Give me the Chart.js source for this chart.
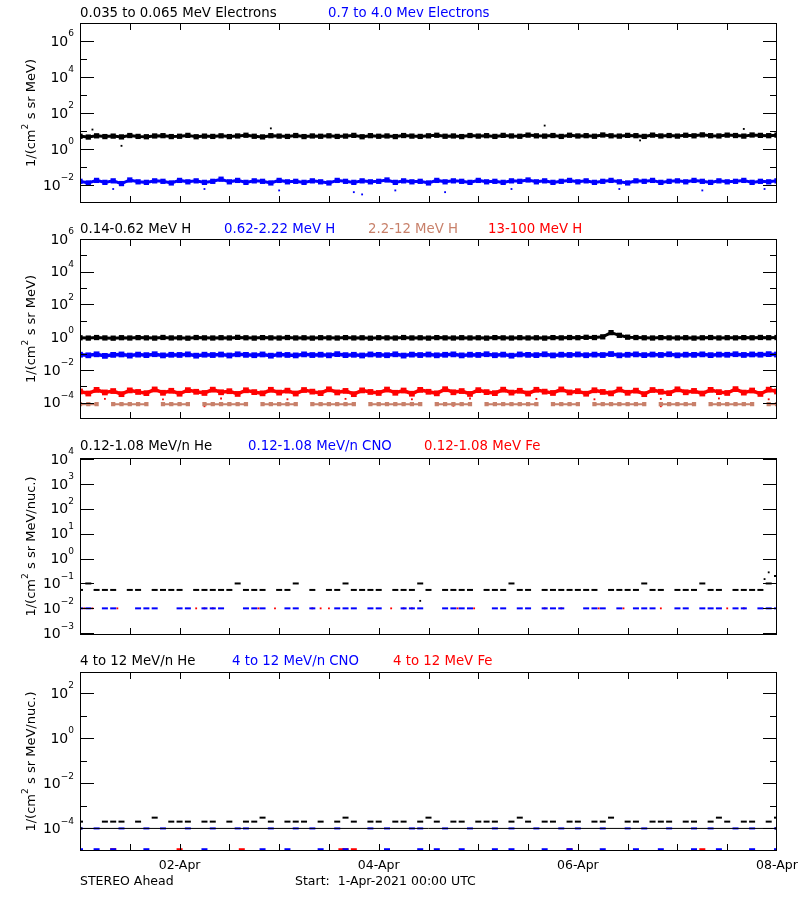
<!DOCTYPE html>
<html><head><meta charset="utf-8">
<script src="https://cdn.jsdelivr.net/npm/chart.js@4"></script>
<style>
body{margin:0;background:#fff;width:800px;height:900px;position:relative;overflow:hidden;font-family:"DejaVu Sans",sans-serif}
canvas{position:absolute;left:0;top:0}
.t{position:absolute;font-size:13.3px;white-space:pre;line-height:14px}
.f{font-size:12.5px}
</style></head><body>
<canvas id="c1" width="800" height="900"></canvas>
<canvas id="c2" width="800" height="900"></canvas>
<canvas id="c3" width="800" height="900"></canvas>
<canvas id="c4" width="800" height="900"></canvas>
<div class="t" style="left:80px;top:6px">0.035 to 0.065 MeV Electrons</div>
<div class="t" style="left:328px;top:6px;color:#0000ff">0.7 to 4.0 Mev Electrons</div>
<div class="t" style="left:80px;top:222px">0.14-0.62 MeV H</div>
<div class="t" style="left:224px;top:222px;color:#0000ff">0.62-2.22 MeV H</div>
<div class="t" style="left:368px;top:222px;color:#c8806a">2.2-12 MeV H</div>
<div class="t" style="left:488px;top:222px;color:#ff0000">13-100 MeV H</div>
<div class="t" style="left:80px;top:439px">0.12-1.08 MeV/n He</div>
<div class="t" style="left:248px;top:439px;color:#0000ff">0.12-1.08 MeV/n CNO</div>
<div class="t" style="left:424px;top:439px;color:#ff0000">0.12-1.08 MeV Fe</div>
<div class="t" style="left:80px;top:654px">4 to 12 MeV/n He</div>
<div class="t" style="left:232px;top:654px;color:#0000ff">4 to 12 MeV/n CNO</div>
<div class="t" style="left:393px;top:654px;color:#ff0000">4 to 12 MeV Fe</div>
<div class="t f" style="left:80px;top:874px">STEREO Ahead</div>
<div class="t f" style="left:295px;top:874px">Start:  1-Apr-2021 00:00 UTC</div>
<script>
const hours=[0,2,4,6,8,10,12,14,16,18,20,22,24,26,28,30,32,34,36,38,40,42,44,46,48,50,52,54,56,58,60,62,64,66,68,70,72,74,76,78,80,82,84,86,88,90,92,94,96,98,100,102,104,106,108,110,112,114,116,118,120,122,124,126,128,130,132,134,136,138,140,142,144,146,148,150,152,154,156,158,160,162,164,166,168];
const xTickLabels={24:"02-Apr",72:"04-Apr",120:"06-Apr",168:"08-Apr"};
// Panel 1
const eLow=[5.1,4.6,5.4,4.9,5.2,4.7,5.6,5.0,4.8,5.3,5.5,4.9,5.1,5.7,4.8,5.2,5.0,5.4,4.9,5.3,5.8,5.1,4.7,5.5,5.2,5.0,5.6,4.9,5.3,5.1,5.4,5.0,5.2,5.7,4.8,5.5,5.1,5.3,4.9,5.6,5.2,5.0,5.4,5.8,5.1,5.3,4.9,5.6,5.2,5.5,5.0,5.7,5.3,5.1,5.9,5.4,5.2,5.6,5.0,5.8,5.3,5.5,5.1,6.0,5.4,5.2,5.7,5.5,5.0,5.9,5.3,5.6,5.2,5.8,5.4,6.1,5.5,5.3,5.9,5.6,5.2,6.0,5.7,5.5,5.9];
const eLowOut=[[3,12],[10,1.5],[46,14],[112,20],[135,3],[160,13]];
const eHigh=[0.016,0.013,0.018,0.014,0.017,0.012,0.019,0.015,0.014,0.017,0.016,0.013,0.018,0.015,0.017,0.014,0.016,0.021,0.015,0.018,0.014,0.017,0.016,0.013,0.018,0.015,0.016,0.014,0.017,0.015,0.013,0.018,0.016,0.014,0.017,0.015,0.016,0.019,0.014,0.017,0.015,0.016,0.013,0.018,0.015,0.017,0.016,0.014,0.018,0.015,0.016,0.014,0.017,0.016,0.019,0.015,0.017,0.014,0.016,0.018,0.015,0.017,0.014,0.016,0.018,0.015,0.013,0.017,0.016,0.018,0.014,0.016,0.017,0.015,0.018,0.016,0.014,0.017,0.015,0.016,0.018,0.014,0.016,0.015,0.017];
const eHighOut=[[8,0.006],[16,0.001],[30,0.006],[48,0.005],[66,0.004],[68,0.003],[76,0.005],[88,0.004],[104,0.006],[130,0.006],[150,0.005],[165,0.006]];
// Panel 2
const h1=[0.92,0.88,0.95,0.90,0.87,0.93,0.89,0.94,0.91,0.88,0.96,0.90,0.92,0.87,0.95,0.91,0.89,0.93,0.90,0.97,0.92,0.88,0.94,0.91,0.89,0.95,0.90,0.92,0.88,0.93,0.91,0.89,0.94,0.90,0.92,0.87,0.93,0.91,0.89,0.95,0.90,0.92,0.88,0.94,0.91,0.89,0.93,0.90,0.92,0.88,0.94,0.91,0.89,0.93,0.90,0.92,0.88,0.94,0.91,0.95,0.93,0.98,0.95,1.05,1.9,1.3,1.0,0.95,0.92,0.89,0.94,0.91,0.90,0.93,0.88,0.92,0.95,0.90,0.93,0.91,0.94,0.92,0.96,0.93,0.95];
const h2=[0.085,0.078,0.090,0.072,0.083,0.088,0.075,0.086,0.080,0.091,0.077,0.084,0.082,0.089,0.074,0.085,0.081,0.087,0.076,0.090,0.083,0.079,0.088,0.074,0.086,0.082,0.077,0.089,0.081,0.085,0.078,0.092,0.080,0.084,0.076,0.088,0.083,0.079,0.090,0.075,0.086,0.081,0.087,0.078,0.084,0.089,0.077,0.085,0.082,0.091,0.079,0.086,0.074,0.088,0.083,0.080,0.090,0.077,0.085,0.082,0.088,0.079,0.086,0.081,0.093,0.078,0.084,0.089,0.080,0.087,0.082,0.090,0.078,0.085,0.083,0.089,0.080,0.086,0.084,0.091,0.082,0.088,0.085,0.092,0.087];
const h4=[4.8e-4,3.6e-4,6.0e-4,4.2e-4,5.1e-4,3.3e-4,5.6e-4,4.5e-4,3.8e-4,6.4e-4,4.0e-4,5.3e-4,3.5e-4,5.8e-4,4.6e-4,3.9e-4,6.2e-4,4.3e-4,5.0e-4,3.4e-4,5.7e-4,4.4e-4,3.7e-4,6.1e-4,4.1e-4,5.4e-4,3.6e-4,5.9e-4,4.7e-4,3.8e-4,6.5e-4,4.2e-4,5.2e-4,3.3e-4,5.6e-4,4.5e-4,3.9e-4,6.3e-4,4.0e-4,5.5e-4,3.5e-4,6.0e-4,4.6e-4,3.7e-4,6.6e-4,4.3e-4,5.1e-4,3.4e-4,5.8e-4,4.4e-4,3.8e-4,6.2e-4,4.1e-4,5.3e-4,3.6e-4,6.1e-4,4.7e-4,3.9e-4,6.4e-4,4.2e-4,5.0e-4,3.5e-4,5.7e-4,4.5e-4,3.7e-4,6.3e-4,4.0e-4,5.4e-4,3.3e-4,5.9e-4,4.6e-4,3.8e-4,6.5e-4,4.3e-4,5.2e-4,3.6e-4,6.0e-4,4.4e-4,3.9e-4,6.7e-4,4.1e-4,5.5e-4,3.4e-4,6.2e-4,4.8e-4];
const h4Low=[[6,1.7e-4],[20,1.6e-4],[34,1.8e-4],[50,1.6e-4],[64,1.7e-4],[80,1.6e-4],[94,1.8e-4],[110,1.7e-4],[124,1.6e-4],[140,1.7e-4],[154,1.8e-4],[166,1.6e-4],[30,6e-5],[90,6.5e-5],[140,6e-5]];
const h3=[8e-5,8e-5,8e-5,null,8e-5,8e-5,8e-5,8e-5,8e-5,null,8e-5,8e-5,8e-5,8e-5,null,8e-5,8e-5,8e-5,8e-5,8e-5,8e-5,null,8e-5,8e-5,8e-5,8e-5,8e-5,null,8e-5,8e-5,8e-5,8e-5,8e-5,8e-5,null,8e-5,8e-5,8e-5,8e-5,8e-5,8e-5,8e-5,null,8e-5,8e-5,8e-5,8e-5,8e-5,null,8e-5,8e-5,8e-5,8e-5,8e-5,8e-5,8e-5,null,8e-5,8e-5,8e-5,8e-5,null,8e-5,8e-5,8e-5,8e-5,8e-5,8e-5,8e-5,null,8e-5,8e-5,8e-5,8e-5,8e-5,null,8e-5,8e-5,8e-5,8e-5,8e-5,8e-5,null,8e-5,8e-5];
// Panel 3
const heLow=[0.055,0.1,0.055,0.055,0.055,null,0.055,0.055,null,0.055,0.055,0.055,0.055,null,0.055,0.055,0.055,0.055,0.055,0.1,0.055,0.055,0.055,null,0.055,0.055,0.1,null,0.055,null,0.055,0.055,0.1,0.055,0.055,0.055,0.055,null,0.055,0.055,0.055,0.1,0.055,null,0.055,0.055,0.055,0.055,null,0.055,0.055,0.055,0.1,0.055,0.055,null,0.055,0.055,0.055,0.055,0.055,0.055,0.055,null,0.055,0.055,0.055,0.055,0.1,0.055,0.055,null,0.055,0.055,0.055,0.1,0.055,0.055,null,0.055,0.055,0.055,0.055,0.1,0.2];
const heLowOut=[[82,0.02],[165,0.15],[166,0.28]];
const cnoLow=[0.01,0.01,null,0.01,0.01,null,null,0.01,0.01,0.01,null,null,0.01,0.01,null,0.01,0.01,0.01,null,null,0.01,0.01,0.01,null,null,0.01,0.01,null,0.01,null,null,0.01,0.01,0.01,null,0.01,0.01,null,null,0.01,0.01,0.01,null,null,0.01,0.01,0.01,0.01,null,null,0.01,0.01,null,0.01,0.01,null,0.01,0.01,0.01,null,null,0.01,0.01,0.01,null,0.01,null,0.01,0.01,0.01,null,null,0.01,0.01,null,0.01,0.01,0.01,null,0.01,0.01,null,0.01,0.01,0.01];
const feLow=[[1,0.01],[3,0.01],[9,0.01],[28,0.01],[30,0.01],[32,0.01],[43,0.01],[47,0.01],[56,0.01],[58,0.01],[60,0.01],[75,0.01],[78,0.01],[80,0.01],[91,0.01],[95,0.01],[112,0.01],[116,0.01],[125,0.01],[131,0.01],[140,0.01],[156,0.01],[160,0.01]];
// Panel 4
const heHigh=[2e-4,null,null,2e-4,2e-4,2e-4,null,2e-4,null,3e-4,null,2e-4,2e-4,2e-4,null,2e-4,2e-4,null,2e-4,null,2e-4,2e-4,3e-4,2e-4,null,2e-4,2e-4,2e-4,null,2e-4,null,2e-4,3e-4,2e-4,null,2e-4,2e-4,null,2e-4,2e-4,null,2e-4,3e-4,2e-4,null,2e-4,2e-4,null,2e-4,2e-4,2e-4,null,2e-4,3e-4,2e-4,null,2e-4,2e-4,null,2e-4,2e-4,null,2e-4,2e-4,3e-4,null,2e-4,2e-4,null,2e-4,2e-4,2e-4,null,2e-4,2e-4,null,2e-4,3e-4,2e-4,null,2e-4,2e-4,null,2e-4,3e-4];
const baseLine=[[0,1e-4],[168,1e-4]];
const cnoHighLine=[1e-4,null,1e-4,null,null,1e-4,null,null,1e-4,null,1e-4,null,null,1e-4,null,null,1e-4,null,null,1e-4,1e-4,null,null,1e-4,null,null,1e-4,null,1e-4,null,null,1e-4,null,null,null,1e-4,null,1e-4,null,null,1e-4,1e-4,null,null,1e-4,null,null,1e-4,null,null,1e-4,null,1e-4,null,null,1e-4,null,null,1e-4,null,1e-4,null,null,1e-4,null,null,1e-4,null,1e-4,null,null,1e-4,null,null,1e-4,null,1e-4,null,null,1e-4,null,1e-4,null,null,1e-4];
const cnoHigh=[1.2e-5,null,1.2e-5,null,1.2e-5,null,null,null,1.2e-5,null,null,null,null,null,null,1.2e-5,null,null,null,null,null,null,1.2e-5,null,null,1.2e-5,null,null,null,1.2e-5,null,null,1.2e-5,null,null,null,null,1.2e-5,null,null,null,1.2e-5,null,1.2e-5,null,null,1.2e-5,null,null,null,1.2e-5,null,1.2e-5,null,null,null,1.2e-5,null,null,1.2e-5,null,null,null,1.2e-5,null,null,null,1.2e-5,null,null,1.2e-5,null,null,null,1.2e-5,null,null,1.2e-5,null,null,null,1.2e-5,null,null,1.2e-5];
const feHigh=[[8,1.2e-5],[24,1.2e-5],[39,1.2e-5],[63,1.2e-5],[64,1.2e-5],[66,1.2e-5],[118,1.2e-5],[150,1.2e-5]];

function pts(arr){const o=[];for(let i=0;i<arr.length&&i<hours.length;i++)o.push({x:hours[i],y:arr[i]});return o;}
function pairs(arr){return arr.map(p=>({x:p[0],y:p[1]}));}
function band(data,color,w){return {data,borderColor:color,backgroundColor:color,showLine:true,borderWidth:w||3,pointRadius:1.6,pointStyle:'rect',spanGaps:false};}
function dots(data,color){return {data,borderColor:color,backgroundColor:color,showLine:false,pointRadius:1.3,pointStyle:'rect',borderWidth:0};}
function dashes(data,color){return {data,borderColor:color,backgroundColor:color,showLine:false,pointStyle:'line',pointRadius:3,borderWidth:2};}

const inTicks={id:'inTicks',afterDraw(ch){
  const c=ch.ctx,a=ch.chartArea,xs=ch.scales.x,ys=ch.scales.y,o=ch.options.plugins.inTicks;
  c.save();c.strokeStyle='#000';c.fillStyle='#000';c.lineWidth=1;
  c.strokeRect(a.left+0.5,a.top+0.5,a.right-a.left-1,a.bottom-a.top-1);
  c.beginPath();
  for(let h=12;h<168;h+=12){const x=Math.round(xs.getPixelForValue(h))+0.5;c.moveTo(x,a.bottom);c.lineTo(x,a.bottom-7);c.moveTo(x,a.top);c.lineTo(x,a.top+7);}
  o.minor.forEach(e=>{const y=Math.round(ys.getPixelForValue(Math.pow(10,e)))+0.5;c.moveTo(a.left,y);c.lineTo(a.left+7,y);c.moveTo(a.right,y);c.lineTo(a.right-7,y);});
  o.major.forEach(e=>{const y=Math.round(ys.getPixelForValue(Math.pow(10,e)))+0.5;c.moveTo(a.left,y);c.lineTo(a.left+14,y);c.moveTo(a.right,y);c.lineTo(a.right-14,y);});
  c.stroke();
  c.textBaseline='middle';
  o.major.forEach(e=>{const y=ys.getPixelForValue(Math.pow(10,e));
    c.font='9px "DejaVu Sans"';const s=String(e).replace('-','\u2212');const sw=c.measureText(s).width;
    c.textAlign='right';c.fillText(s,74,y-7);
    c.font='14px "DejaVu Sans"';c.fillText('10',74-sw,y+1);});
  if(o.xlabels){c.font='12.5px "DejaVu Sans"';c.textAlign='center';
    Object.keys(xTickLabels).forEach(h=>c.fillText(xTickLabels[h],xs.getPixelForValue(+h),a.bottom+15));}
  c.translate(32,(a.top+a.bottom)/2);c.rotate(-Math.PI/2);c.font='13px "DejaVu Sans"';
  const t=o.ylab, w1=c.measureText('1/(cm').width, w2=c.measureText(t).width;
  c.textAlign='left';const x0=-(w1+w2+6)/2;c.fillText('1/(cm',x0,0);c.font='9px "DejaVu Sans"';c.fillText('2',x0+w1,-6);c.font='13px "DejaVu Sans"';c.fillText(t,x0+w1+6,0);
  c.restore();}};

function make(id,top,bottom,ymin,ymax,datasets,major,minor,ylab,xlabels){
  new Chart(document.getElementById(id),{type:'scatter',data:{datasets},
    options:{responsive:false,animation:false,events:[],layout:{padding:{left:80,right:23,top,bottom:900-bottom}},
      scales:{x:{type:'linear',min:0,max:168,display:false},y:{type:'logarithmic',min:ymin,max:ymax,display:false}},
      plugins:{legend:{display:false},tooltip:{enabled:false},inTicks:{major,minor,ylab,xlabels}}},
    plugins:[inTicks]});
}
const blk='#000000',blu='#0000ff',red='#ff0000',brn='#c8806a';
make('c1',23,203,1e-3,1e7,[band(pts(eLow),blk),dots(pairs(eLowOut),blk),band(pts(eHigh),blu),dots(pairs(eHighOut),blu)],[-2,0,2,4,6],[-1,1,3,5],' s sr MeV)',false);
make('c2',239,419,1e-5,1e6,[band(pts(h3),brn,2),dots(pairs(h4Low),red),band(pts(h4),red,3.5),band(pts(h1),blk),band(pts(h2),blu,3.5)],[-4,-2,0,2,4,6],[-3,-1,1,3,5],' s sr MeV)',false);
make('c3',458,635,8.5e-4,1.1e4,[dashes(pts(cnoLow),blu),dots(pairs(feLow),red),dashes(pts(heLow),blk),dots(pairs(heLowOut),blk)],[-3,-2,-1,0,1,2,3,4],[],' s sr MeV/nuc.)',false);
make('c4',672,851,1e-5,8.5e2,[band(pairs(baseLine),blk,1),dashes(pts(cnoHighLine),blu),dashes(pts(heHigh),blk),dashes(pts(cnoHigh),blu),dashes(pairs(feHigh),red)],[-4,-2,0,2],[-3,-1,1],' s sr MeV/nuc.)',true);
</script></body></html>
